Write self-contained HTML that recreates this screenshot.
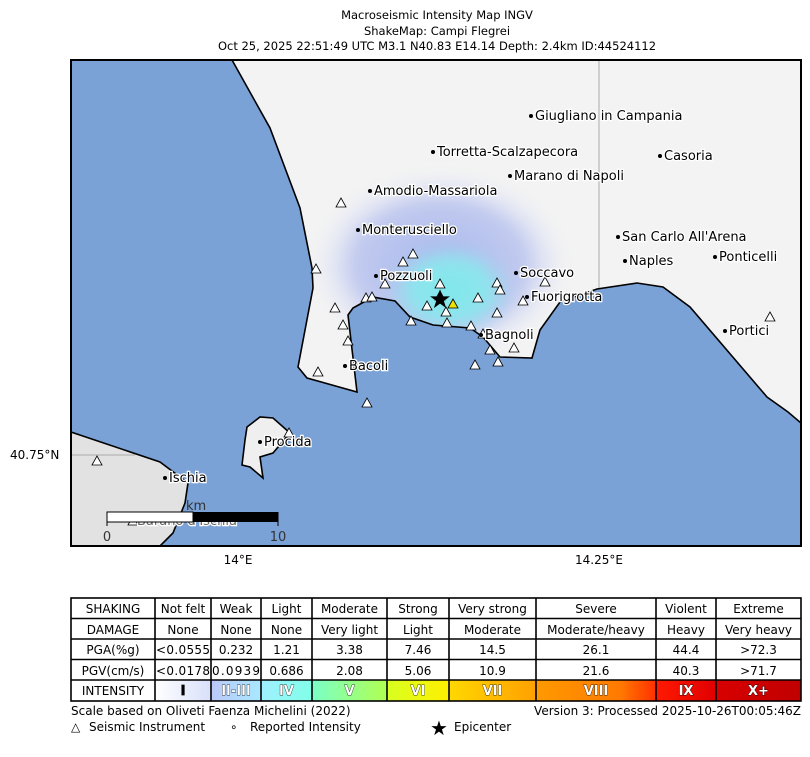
<!DOCTYPE html>
<html><head><meta charset="utf-8"><style>
body{margin:0;background:#fff;width:810px;height:752px;overflow:hidden}
svg text{font-family:"DejaVu Sans","Liberation Sans",sans-serif}
</style></head><body>
<svg width="810" height="752" viewBox="0 0 810 752" xmlns="http://www.w3.org/2000/svg">
<defs>
<clipPath id="frame"><rect x="71" y="60" width="730" height="486"/></clipPath>
<clipPath id="land"><path d="M232,60 L270,128 L300,208 L312,268 L313,288 L298,367 L307,378 L357,392 L348,315 L353,308 L373,297 L395,301 L410,317 L433,325 L470,328 L483,337 L500,357 L532,358 L540,330 L560,302 L597,289 L637,283 L663,287 L690,307 L767,397 L788,412 L801,423 L801,60 Z"/></clipPath>
<radialGradient id="outer" cx="0.5" cy="0.5" r="0.5"><stop offset="0" stop-color="#a8b8ee"/><stop offset="0.65" stop-color="#b8c2ee" stop-opacity="0.85"/><stop offset="1" stop-color="#e8ecfa" stop-opacity="0"/></radialGradient>
<radialGradient id="inner" cx="0.5" cy="0.5" r="0.5"><stop offset="0" stop-color="#7fe8ea"/><stop offset="0.6" stop-color="#8fe4ee"/><stop offset="1" stop-color="#a6d0f0" stop-opacity="0"/></radialGradient>
<linearGradient id="g1" x1="0" x2="1"><stop offset="0" stop-color="#fff"/><stop offset="1" stop-color="#d8e0fa"/></linearGradient>
<linearGradient id="g2" x1="0" x2="1"><stop offset="0" stop-color="#bcc8f8"/><stop offset="1" stop-color="#a8e8ff"/></linearGradient>
<linearGradient id="g3" x1="0" x2="1"><stop offset="0" stop-color="#a0f0ff"/><stop offset="1" stop-color="#80ffe8"/></linearGradient>
<linearGradient id="g4" x1="0" x2="1"><stop offset="0" stop-color="#7affc8"/><stop offset="1" stop-color="#b0ff50"/></linearGradient>
<linearGradient id="g5" x1="0" x2="1"><stop offset="0" stop-color="#d8ff20"/><stop offset="1" stop-color="#fff000"/></linearGradient>
<linearGradient id="g6" x1="0" x2="1"><stop offset="0" stop-color="#ffd800"/><stop offset="1" stop-color="#ffa000"/></linearGradient>
<linearGradient id="g7" x1="0" x2="1"><stop offset="0" stop-color="#ff9a00"/><stop offset="0.7" stop-color="#ff7a00"/><stop offset="1" stop-color="#ff3000"/></linearGradient>
<linearGradient id="g8" x1="0" x2="1"><stop offset="0" stop-color="#ff1a00"/><stop offset="1" stop-color="#e00000"/></linearGradient>
<linearGradient id="g9" x1="0" x2="1"><stop offset="0" stop-color="#d80000"/><stop offset="1" stop-color="#c00000"/></linearGradient>
<filter id="bl"><feGaussianBlur stdDeviation="6"/></filter>
</defs>

<g font-size="11.5" text-anchor="middle" fill="#000">
<text x="437" y="19">Macroseismic Intensity Map INGV</text>
<text x="437" y="35">ShakeMap: Campi Flegrei</text>
<text x="437" y="50">Oct 25, 2025 22:51:49 UTC M3.1 N40.83 E14.14 Depth: 2.4km ID:44524112</text>
</g>

<g clip-path="url(#frame)">
<rect x="71" y="60" width="730" height="486" fill="#7aa2d6"/>
<g clip-path="url(#land)">
<rect x="71" y="60" width="730" height="486" fill="#f3f3f3"/>
<ellipse cx="440" cy="265" rx="130" ry="95" fill="url(#outer)" filter="url(#bl)"/>
<ellipse cx="450" cy="290" rx="65" ry="48" fill="url(#inner)" filter="url(#bl)"/>
<line x1="599" y1="60" x2="599" y2="300" stroke="#999" stroke-width="0.8"/>
</g>
<path d="M232,60 L270,128 L300,208 L312,268 L313,288 L298,367 L307,378 L357,392 L348,315 L353,308 L373,297 L395,301 L410,317 L433,325 L470,328 L483,337 L500,357 L532,358 L540,330 L560,302 L597,289 L637,283 L663,287 L690,307 L767,397 L788,412 L801,423" fill="none" stroke="#000" stroke-width="1.6"/>
<path d="M71,432 L160,462 L188,483 L185,503 L173,533 L160,546 L71,546 Z" fill="#e2e2e2" stroke="#000" stroke-width="1.6"/>
<line x1="71" y1="455" x2="135" y2="455" stroke="#999" stroke-width="0.8"/>
<path d="M247,427 L260,417 L273,418 L290,433 L273,453 L260,457 L263,478 L250,467 L242,465 L245,440 Z" fill="#efefef" stroke="#000" stroke-width="1.6"/>
</g>
<rect x="71" y="60" width="730" height="486" fill="none" stroke="#000" stroke-width="2"/>

<g fill="#fff" stroke="#000" stroke-width="0.8">
<path id="t" d="M0,-5 L5,4 L-5,4 Z" transform="translate(341,203)"/>
<use href="#t" transform="translate(-25,66)"/><use href="#t" transform="translate(72,51)"/><use href="#t" transform="translate(62,59)"/>
<use href="#t" transform="translate(44,81)"/><use href="#t" transform="translate(99,81)"/><use href="#t" transform="translate(25,95)"/>
<use href="#t" transform="translate(31,94)"/><use href="#t" transform="translate(86,103)"/><use href="#t" transform="translate(137,95)"/>
<use href="#t" transform="translate(156,80)"/><use href="#t" transform="translate(159,87)"/><use href="#t" transform="translate(204,79)"/>
<use href="#t" transform="translate(182,98)"/><use href="#t" transform="translate(156,110)"/><use href="#t" transform="translate(105,109)"/>
<use href="#t" transform="translate(106,120)"/><use href="#t" transform="translate(70,118)"/><use href="#t" transform="translate(130,123)"/>
<use href="#t" transform="translate(142,131)"/><use href="#t" transform="translate(149,147)"/><use href="#t" transform="translate(173,145)"/>
<use href="#t" transform="translate(2,122)"/><use href="#t" transform="translate(7,138)"/><use href="#t" transform="translate(-23,169)"/>
<use href="#t" transform="translate(26,200)"/><use href="#t" transform="translate(134,162)"/><use href="#t" transform="translate(157,159)"/>
<use href="#t" transform="translate(-52,230)"/><use href="#t" transform="translate(-244,258)"/><use href="#t" transform="translate(429,114)"/>
<use href="#t" transform="translate(99,93)"/><use href="#t" transform="translate(-6,105)"/><use href="#t" transform="translate(-208,318)"/>
</g>
<path d="M453,299 L458,308 L448,308 Z" fill="#f0e000" stroke="#000" stroke-width="0.8"/>
<text x="440" y="308" font-size="26" text-anchor="middle" fill="#000">★</text>

<g font-size="13" fill="#000" stroke="#fff" stroke-width="2.5" paint-order="stroke">
<text x="535" y="120">Giugliano in Campania</text>
<text x="437" y="156">Torretta-Scalzapecora</text>
<text x="664" y="160">Casoria</text>
<text x="514" y="180">Marano di Napoli</text>
<text x="374" y="195">Amodio-Massariola</text>
<text x="362" y="234">Monterusciello</text>
<text x="622" y="241">San Carlo All'Arena</text>
<text x="629" y="265">Naples</text>
<text x="719" y="261">Ponticelli</text>
<text x="520" y="277">Soccavo</text>
<text x="380" y="280">Pozzuoli</text>
<text x="531" y="301">Fuorigrotta</text>
<text x="485" y="339">Bagnoli</text>
<text x="729" y="335">Portici</text>
<text x="349" y="370">Bacoli</text>
<text x="264" y="446">Procida</text>
<text x="169" y="482">Ischia</text>
<text x="137" y="525" fill="#666">Barano d'Ischia</text>
</g>
<g fill="#000">
<circle cx="531" cy="116" r="2"/><circle cx="433" cy="152" r="2"/><circle cx="660" cy="156" r="2"/><circle cx="510" cy="176" r="2"/>
<circle cx="370" cy="191" r="2"/><circle cx="358" cy="230" r="2"/><circle cx="618" cy="237" r="2"/><circle cx="625" cy="261" r="2"/>
<circle cx="715" cy="257" r="2"/><circle cx="516" cy="273" r="2"/><circle cx="376" cy="276" r="2"/><circle cx="527" cy="297" r="2"/>
<circle cx="481" cy="335" r="2"/><circle cx="725" cy="331" r="2"/><circle cx="345" cy="366" r="2"/><circle cx="260" cy="442" r="2"/>
<circle cx="165" cy="478" r="2"/>
</g>

<text x="186" y="510" font-size="13" fill="#333">km</text>
<rect x="107" y="512" width="86" height="10" fill="#fff" stroke="#000"/>
<rect x="193" y="512" width="85" height="10" fill="#000"/>
<line x1="107" y1="512" x2="107" y2="526" stroke="#000"/><line x1="278" y1="512" x2="278" y2="526" stroke="#000"/>
<text x="107" y="541" font-size="13" text-anchor="middle" fill="#333">0</text>
<text x="278" y="541" font-size="13" text-anchor="middle" fill="#333">10</text>

<g font-size="12" fill="#000">
<text x="10" y="459">40.75°N</text>
<text x="238" y="564" text-anchor="middle">14°E</text>
<text x="599" y="564" text-anchor="middle">14.25°E</text>
</g>

<g font-size="12" text-anchor="middle" fill="#000">
<rect x="155" y="680" width="56" height="21" fill="url(#g1)"/>
<rect x="211" y="680" width="50" height="21" fill="url(#g2)"/>
<rect x="261" y="680" width="51" height="21" fill="url(#g3)"/>
<rect x="312" y="680" width="75" height="21" fill="url(#g4)"/>
<rect x="387" y="680" width="62" height="21" fill="url(#g5)"/>
<rect x="449" y="680" width="87" height="21" fill="url(#g6)"/>
<rect x="536" y="680" width="120" height="21" fill="url(#g7)"/>
<rect x="656" y="680" width="60" height="21" fill="url(#g8)"/>
<rect x="716" y="680" width="85" height="21" fill="url(#g9)"/>
<g stroke="#000" stroke-width="1.6" fill="none">
<rect x="71" y="598" width="730" height="103"/>
<line x1="71" y1="618.5" x2="801" y2="618.5"/><line x1="71" y1="639" x2="801" y2="639"/>
<line x1="71" y1="659.5" x2="801" y2="659.5"/><line x1="71" y1="680" x2="801" y2="680"/>
<line x1="155" y1="598" x2="155" y2="701"/><line x1="211" y1="598" x2="211" y2="701"/><line x1="261" y1="598" x2="261" y2="701"/>
<line x1="312" y1="598" x2="312" y2="701"/><line x1="387" y1="598" x2="387" y2="701"/><line x1="449" y1="598" x2="449" y2="701"/>
<line x1="536" y1="598" x2="536" y2="701"/><line x1="656" y1="598" x2="656" y2="701"/><line x1="716" y1="598" x2="716" y2="701"/>
</g>
<text x="113" y="613">SHAKING</text><text x="183" y="613">Not felt</text><text x="236" y="613">Weak</text><text x="286.5" y="613">Light</text><text x="349.5" y="613">Moderate</text><text x="418" y="613">Strong</text><text x="492.5" y="613">Very strong</text><text x="596" y="613">Severe</text><text x="686" y="613">Violent</text><text x="758.5" y="613">Extreme</text>
<text x="113" y="634">DAMAGE</text><text x="183" y="634">None</text><text x="236" y="634">None</text><text x="286.5" y="634">None</text><text x="349.5" y="634">Very light</text><text x="418" y="634">Light</text><text x="492.5" y="634">Moderate</text><text x="596" y="634">Moderate/heavy</text><text x="686" y="634">Heavy</text><text x="758.5" y="634">Very heavy</text>
<text x="113" y="654">PGA(%g)</text><text x="183" y="654" textLength="54">&lt;0.0555</text><text x="236" y="654">0.232</text><text x="286.5" y="654">1.21</text><text x="349.5" y="654">3.38</text><text x="418" y="654">7.46</text><text x="492.5" y="654">14.5</text><text x="596" y="654">26.1</text><text x="686" y="654">44.4</text><text x="758.5" y="654">&gt;72.3</text>
<text x="113" y="675">PGV(cm/s)</text><text x="183" y="675" textLength="54">&lt;0.0178</text><text x="236" y="675" textLength="48">0.0939</text><text x="286.5" y="675">0.686</text><text x="349.5" y="675">2.08</text><text x="418" y="675">5.06</text><text x="492.5" y="675">10.9</text><text x="596" y="675">21.6</text><text x="686" y="675">40.3</text><text x="758.5" y="675">&gt;71.7</text>
<text x="113" y="695">INTENSITY</text>
<g font-weight="bold" stroke="#000" stroke-width="0.7" fill="#fff" paint-order="stroke" font-size="13">
<text x="183" y="695" fill="#000">I</text><text x="236" y="695">II-III</text><text x="286.5" y="695">IV</text><text x="349.5" y="695">V</text><text x="418" y="695">VI</text><text x="492.5" y="695">VII</text><text x="596" y="695">VIII</text><text x="686" y="695">IX</text><text x="758.5" y="695">X+</text>
</g>
</g>

<g font-size="12" fill="#000">
<text x="71" y="715">Scale based on Oliveti Faenza Michelini (2022)</text>
<text x="801" y="715" text-anchor="end">Version 3: Processed 2025-10-26T00:05:46Z</text>
<text x="71" y="731">△</text><text x="89" y="731">Seismic Instrument</text>
<text x="230" y="731">∘</text><text x="250" y="731">Reported Intensity</text>
<text x="430" y="735" font-size="20">★</text>
<text x="454" y="731">Epicenter</text>
</g>
</svg>
</body></html>
